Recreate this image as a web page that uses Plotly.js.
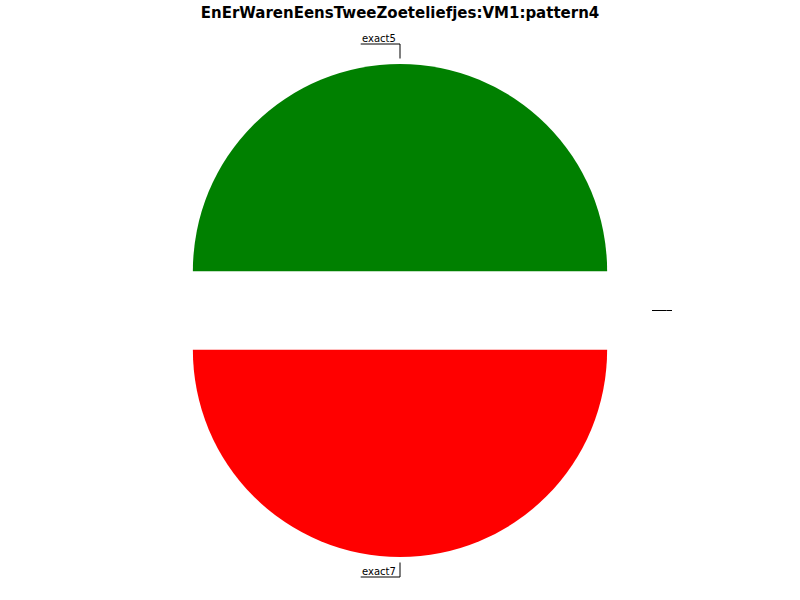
<!DOCTYPE html>
<html><head><meta charset="utf-8">
<script src="https://cdn.plot.ly/plotly-3.0.1.min.js"></script>
<style>html,body{margin:0;padding:0;background:#fff}</style>
</head><body>
<div id="chart" style="width:800px;height:600px"></div>
<script>
// ---- data ----
const labels = ["exact5", "exact7", ""];
const values = [1, 1, 0];
const colors = ["#008000", "#ff0000", "#0000ff"];
const pulls = [0.19, 0.19, 0.19];
const titleText = "EnErWarenEensTweeZoeteliefjes:VM1:pattern4";

// ---- layout geometry ----
const W = 800, H = 600, M = {l: 0, r: 0, t: 64, b: 43};
const pw = W - M.l - M.r, ph = H - M.t - M.b;
const maxPull = Math.max(...pulls);
const R = Math.min(pw, ph) / 2 / (1 + maxPull);
const cx = M.l + pw / 2, cy = M.t + ph / 2;
const toX = px => (px - M.l) / pw;
const toY = py => (H - M.b - py) / ph;

const labelFont = {family: "DejaVu Sans", size: 10, color: "#000"};
const cvs = document.createElement("canvas").getContext("2d");
cvs.font = "10px 'DejaVu Sans'";

const total = values.reduce((a, b) => a + b, 0);
let cum = 0;
const shapes = [], annotations = [];
values.forEach((v, i) => {
  const mid = (cum + v / 2) / total * 2 * Math.PI; cum += v;
  const ca = Math.cos(mid), sa = Math.sin(mid);
  const edge = R * (1 + pulls[i]);
  const r0 = edge + 5.5, r1 = edge + 20;
  const x0 = cx + r0 * ca, y0 = cy - r0 * sa;
  const x1 = cx + r1 * ca, y1 = cy - r1 * sa;
  const dir = ca > 0.01 ? 1 : -1;
  const tw = labels[i] ? cvs.measureText(labels[i]).width : 0;
  const x2 = x1 + dir * (tw + 5.5);
  const line = {color: "#000", width: 1};
  shapes.push({type: "path", xref: "paper", yref: "paper", line: line,
    path: `M${toX(x0)},${toY(y0)} L${toX(x1)},${toY(y1)} L${toX(x2)},${toY(y1)}`});
  if (labels[i]) {
    annotations.push({xref: "paper", yref: "paper", x: toX(Math.min(x1, x2)), y: toY(y1),
      xanchor: "left", yanchor: "bottom", text: labels[i], showarrow: false,
      font: labelFont, borderpad: 0, yshift: -1});
  }
});

const trace = {
  type: "pie", labels: labels, values: values, sort: false,
  direction: "counterclockwise", rotation: -90, pull: pulls,
  marker: {colors: colors, line: {width: 0}},
  textinfo: "none", hoverinfo: "none", showlegend: false
};

const layout = {
  width: W, height: H, margin: M, paper_bgcolor: "#fff",
  title: {text: titleText, font: {family: "DejaVu Sans", size: 15, weight: "bold", color: "#000"},
          x: 0.5, xref: "paper", y: 1 - 13 / H, yref: "container", yanchor: "middle"},
  shapes: shapes, annotations: annotations, showlegend: false
};
Plotly.newPlot("chart", [trace], layout, {displayModeBar: false, staticPlot: true});
</script>
</body></html>
